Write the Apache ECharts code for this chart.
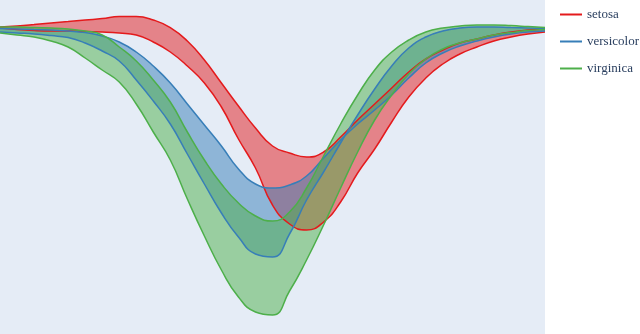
<!DOCTYPE html>
<html>
<head>
<meta charset="utf-8">
<script src="https://cdn.jsdelivr.net/npm/echarts@6/dist/echarts.min.js"></script>
<style>
html,body{margin:0;padding:0;background:#fff;}
#chart{width:640px;height:334px;}
</style>
</head>
<body>
<div id="chart"></div>
<script>
// Andrews curve parameter t
var tValues = [-3.14,-2.95,-2.75,-2.55,-2.36,-2.16,-1.96,-1.77,-1.57,-1.37,-1.18,-0.98,-0.79,-0.59,-0.39,-0.20,0,0.20,0.39,0.59,0.79,0.98,1.18,1.37,1.57,1.77,1.96,2.16,2.36,2.55,2.75,2.95,3.14];

var speciesNames = ['setosa','versicolor','virginica'];

var setosaA = [-1.35,-1.30,-1.23,-1.15,-1.08,-1.00,-0.93,-0.83,-0.83,-1.00,-1.38,-2.05,-3.00,-4.15,-5.30,-6.40,-7.30,-7.65,-7.85,-7.60,-6.85,-6.00,-5.20,-4.40,-3.60,-2.95,-2.50,-2.15,-1.95,-1.75,-1.60,-1.50,-1.45];
var setosaB = [-1.40,-1.48,-1.53,-1.55,-1.55,-1.58,-1.60,-1.65,-1.75,-2.10,-2.60,-3.30,-4.15,-5.35,-6.95,-8.40,-10.25,-11.20,-11.50,-11.10,-10.10,-8.65,-7.45,-6.10,-4.85,-3.90,-3.20,-2.70,-2.35,-2.05,-1.85,-1.70,-1.60];

var versicolorA = [-1.43,-1.45,-1.48,-1.50,-1.55,-1.63,-1.80,-2.10,-2.60,-3.30,-4.15,-5.20,-6.25,-7.30,-8.45,-9.20,-9.40,-9.25,-8.80,-7.90,-7.00,-6.20,-5.50,-4.75,-3.90,-3.15,-2.65,-2.30,-2.05,-1.85,-1.70,-1.60,-1.55];
var versicolorB = [-1.60,-1.65,-1.70,-1.78,-1.88,-2.15,-2.55,-3.05,-4.00,-5.05,-6.20,-7.70,-9.20,-10.65,-11.85,-12.70,-12.85,-11.70,-10.00,-8.60,-7.15,-5.75,-4.45,-3.30,-2.40,-1.85,-1.55,-1.40,-1.35,-1.35,-1.38,-1.40,-1.43];

var virginicaA = [-1.35,-1.35,-1.38,-1.40,-1.45,-1.55,-1.75,-2.35,-3.05,-4.00,-5.10,-6.60,-8.00,-9.20,-10.15,-10.80,-11.05,-10.60,-9.40,-7.80,-6.20,-4.75,-3.50,-2.60,-2.00,-1.60,-1.40,-1.30,-1.25,-1.25,-1.28,-1.33,-1.38];
var virginicaB = [-1.65,-1.75,-1.85,-2.05,-2.35,-2.90,-3.50,-4.10,-5.20,-6.60,-8.00,-9.95,-11.80,-13.50,-14.85,-15.60,-15.75,-14.55,-13.00,-11.25,-9.40,-7.60,-6.00,-4.75,-3.70,-2.95,-2.45,-2.15,-1.95,-1.75,-1.63,-1.53,-1.48];

var colors = ['#e41a1c','#377eb8','#4daf4a'];
var bands = [[setosaA,setosaB],[versicolorA,versicolorB],[virginicaA,virginicaB]];
var SMOOTH = 0.5;

var series = [];
speciesNames.forEach(function(name, k){
  var A = bands[k][0], B = bands[k][1];
  var diff = B.map(function(v,i){ return +(v - A[i]).toFixed(3); });
  var stackId = 'band' + k;
  series.push({
    name: name + '_base', type: 'line', data: A, stack: stackId, stackStrategy: 'all',
    symbol: 'none', smooth: SMOOTH, lineStyle: {opacity: 0}, silent: true
  });
  series.push({
    name: name + '_fill', type: 'line', data: diff, stack: stackId, stackStrategy: 'all',
    symbol: 'none', smooth: SMOOTH, lineStyle: {opacity: 0},
    areaStyle: {color: colors[k], opacity: 0.5}, silent: true
  });
  series.push({
    name: name, type: 'line', data: A, symbol: 'none', smooth: SMOOTH,
    color: colors[k], lineStyle: {color: colors[k], width: 1.5}
  });
  series.push({
    name: name, type: 'line', data: B, symbol: 'none', smooth: SMOOTH,
    color: colors[k], lineStyle: {color: colors[k], width: 1.5}
  });
});

var chart = echarts.init(document.getElementById('chart'), null, {renderer: 'canvas'});
chart.setOption({
  animation: false,
  backgroundColor: '#ffffff',
  grid: {left: 0, right: 95, top: 0, bottom: 0, show: true, backgroundColor: '#E5ECF6', borderWidth: 0},
  xAxis: {type: 'category', data: tValues, boundaryGap: false, show: false},
  yAxis: {type: 'value', min: -16.7, max: 0, show: false},
  legend: {
    data: speciesNames, orient: 'vertical', left: 560, top: 8, padding: 0,
    icon: 'rect', itemWidth: 22, itemHeight: 2, itemGap: 14,
    textStyle: {fontFamily: 'Liberation Serif', fontSize: 13, color: '#2a3f5f'}
  },
  series: series
});
</script>
</body>
</html>
